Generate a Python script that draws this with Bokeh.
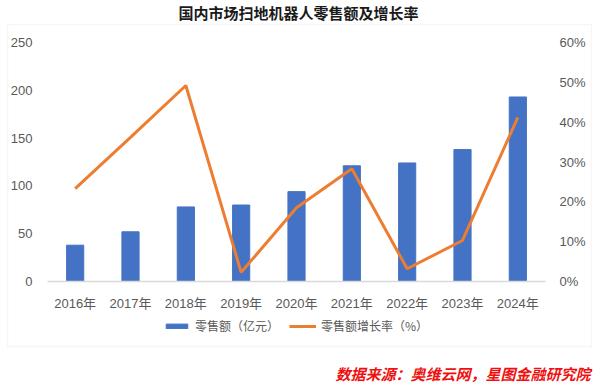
from bokeh.plotting import figure
from bokeh.models import (Range1d, FactorRange, LinearAxis, Legend, LegendItem, Label,
                          BoxAnnotation, FixedTicker, PrintfTickFormatter, ColumnDataSource)
from bokeh.embed import file_html
from bokeh.resources import INLINE

years = ["2016年", "2017年", "2018年", "2019年", "2020年", "2021年", "2022年", "2023年", "2024年"]
sales = [38, 52, 78, 80, 94, 121, 124, 138, 193]          # 零售额（亿元）
growth = [23.3, 36.2, 49.2, 2.3, 18.5, 28.3, 3.2, 10.3, 41.2]  # 零售额增长率（%）
left_ticks = [0, 50, 100, 150, 200, 250]
right_ticks = [0, 10, 20, 30, 40, 50, 60]

title_text = "国内市场扫地机器人零售额及增长率"
source_text = "数据来源：奥维云网，星图金融研究院"
legend_labels = ["零售额（亿元）", "零售额增长率（%）"]

BLUE = "#4472C4"
ORANGE = "#ED7D31"
GRAY = "#595959"
NUM_FONT = "Liberation Sans, Noto Sans CJK SC"
CJK_FONT = "Noto Sans CJK SC"

# ---- layout (pixels) ----
W, H = 600, 383
FRAME_W = 592                 # canvas area used by the (full-canvas) frame
PLOT_L, PLOT_R = 47, 545      # plotting area, x
PLOT_T, PLOT_B = 42, 281      # plotting area, y
n = len(years)
px_per_cat = (PLOT_R - PLOT_L) / n
pad = PLOT_L / px_per_cat     # padding applied on each side
px_per_unit_l = (PLOT_B - PLOT_T) / left_ticks[-1]
px_per_unit_r = (PLOT_B - PLOT_T) / right_ticks[-1]
y_rng = Range1d(-(H - PLOT_B) / px_per_unit_l, left_ticks[-1] + PLOT_T / px_per_unit_l)
pct_rng = Range1d(-(H - PLOT_B) / px_per_unit_r, right_ticks[-1] + PLOT_T / px_per_unit_r)

src = ColumnDataSource(dict(year=years, sales=sales, growth=growth))

p = figure(x_range=FactorRange(*years, range_padding=pad, range_padding_units="absolute"),
           y_range=y_rng, width=W, height=H,
           output_backend="svg", toolbar_location=None,
           min_border_left=0, min_border_right=W - FRAME_W, min_border_top=0, min_border_bottom=0)
p.extra_y_ranges = {"pct": pct_rng}

bars = p.vbar(x="year", top="sales", width=0.31, source=src, color=BLUE)
line = p.line(x="year", y="growth", source=src, y_range_name="pct",
              line_color=ORANGE, line_width=3)

p.xgrid.visible = False
p.ygrid.visible = False
p.outline_line_color = None
p.background_fill_color = "white"
p.border_fill_color = "white"

# left axis
ya = p.yaxis[0]
ya.fixed_location = 0
ya.ticker = FixedTicker(ticks=left_ticks)
ya.axis_line_color = None
ya.major_tick_line_color = None
ya.minor_tick_line_color = None
ya.major_label_text_font = NUM_FONT
ya.major_label_text_font_size = "13px"
ya.major_label_text_color = GRAY
ya.major_label_standoff = 9

# right axis
ra = LinearAxis(y_range_name="pct", ticker=FixedTicker(ticks=right_ticks),
                formatter=PrintfTickFormatter(format="%d%%"), fixed_location=n)
ra.axis_line_color = None
ra.major_tick_line_color = None
ra.minor_tick_line_color = None
ra.major_label_text_font = NUM_FONT
ra.major_label_text_font_size = "13px"
ra.major_label_text_color = GRAY
ra.major_label_standoff = 8
p.add_layout(ra, "right")

# x axis
xa = p.xaxis[0]
xa.fixed_location = 0
xa.bounds = (0, n)
xa.axis_line_color = "#d9d9d9"
xa.axis_line_width = 1.5
xa.major_tick_line_color = None
xa.minor_tick_line_color = None
xa.major_label_text_font = NUM_FONT
xa.major_label_text_font_size = "13px"
xa.major_label_text_color = GRAY
xa.major_label_standoff = 8

# outer light border
p.add_layout(BoxAnnotation(left=7, right=591, top=H - 24, bottom=H - 346,
                           left_units="screen", right_units="screen",
                           top_units="screen", bottom_units="screen",
                           fill_alpha=0, line_color="#e0e0e0", line_width=1.5))

legend = Legend(items=[LegendItem(label=legend_labels[0], renderers=[bars]),
                       LegendItem(label=legend_labels[1], renderers=[line])],
                location=(163, H - 334), orientation="horizontal",
                glyph_width=27, glyph_height=6, label_height=16,
                padding=0, margin=0, spacing=10, label_standoff=5,
                background_fill_alpha=0, border_line_color=None,
                label_text_font=CJK_FONT, label_text_font_size="12px",
                label_text_color=GRAY)
p.add_layout(legend, "center")

p.add_layout(Label(x=298, y=H - 12, x_units="screen", y_units="screen", text=title_text,
                   text_align="center", text_baseline="middle", text_font=CJK_FONT,
                   text_font_size="15px", text_font_style="bold", text_color="#1a1a1a"))

p.add_layout(Label(x=590, y=H - 373, x_units="screen", y_units="screen", text=source_text,
                   text_align="right", text_baseline="middle", text_font=CJK_FONT,
                   text_font_size="15px", text_font_style="bold italic", text_color="#EE1111"))

open("out.html", "w").write(file_html(p, INLINE))
